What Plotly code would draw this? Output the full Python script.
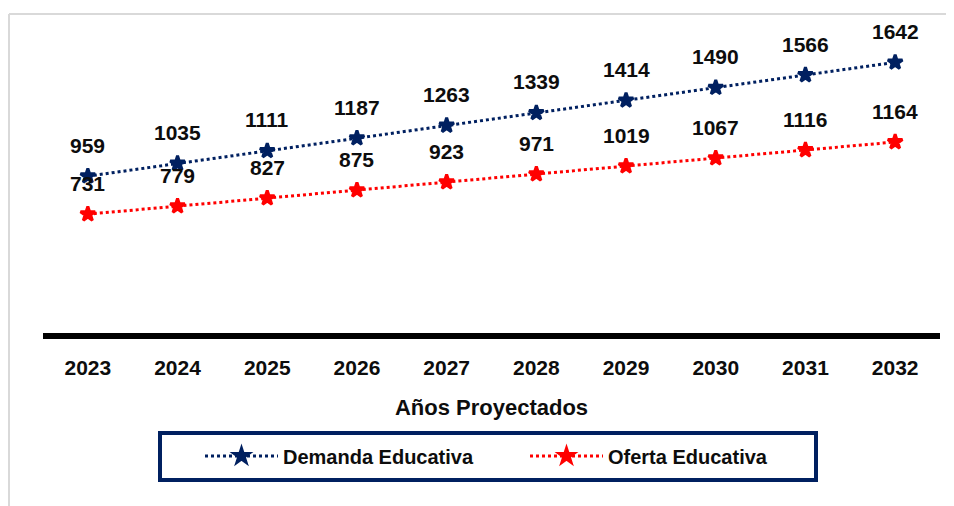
import plotly.graph_objects as go

years = [2023, 2024, 2025, 2026, 2027, 2028, 2029, 2030, 2031, 2032]
demanda = [959, 1035, 1111, 1187, 1263, 1339, 1414, 1490, 1566, 1642]
oferta = [731, 779, 827, 875, 923, 971, 1019, 1067, 1116, 1164]

NAVY = "#002060"
RED = "#FF0000"
FONT = "Liberation Sans"
TXT = "#0d0d0d"

fig = go.Figure()
fig.add_trace(go.Scatter(
    x=years, y=demanda, name="Demanda Educativa", mode="lines+markers",
    line=dict(color=NAVY, width=3, dash="dot"),
    marker=dict(symbol="star", size=11, color=NAVY, line=dict(color=NAVY, width=3)),
    cliponaxis=False,
))
fig.add_trace(go.Scatter(
    x=years, y=oferta, name="Oferta Educativa", mode="lines+markers",
    line=dict(color=RED, width=3, dash="dot"),
    marker=dict(symbol="star", size=11, color=RED, line=dict(color=RED, width=3)),
    cliponaxis=False,
))

annotations = []
for series in (demanda, oferta):
    for xv, yv in zip(years, series):
        annotations.append(dict(
            x=xv, y=yv, text=str(yv), showarrow=False, yshift=31,
            font=dict(family=FONT, size=21, color=TXT, weight="bold"),
        ))

# page is offset by 8px (body margin); all paper coords are relative to the plot area
PL, PB, PW, PH = 43, 336, 897, 300
def px(x):
    return (x - PL) / PW
def py(y):
    return (PB - y) / PH

shapes = [
    dict(type="line", xref="paper", yref="paper", x0=px(9), x1=px(960), y0=py(14), y1=py(14),
         line=dict(color="#d9d9d9", width=2)),
    dict(type="line", xref="paper", yref="paper", x0=px(9), x1=px(9), y0=py(14), y1=py(520),
         line=dict(color="#d9d9d9", width=2)),
    dict(type="rect", xref="paper", yref="paper",
         x0=px(160), x1=px(816), y0=py(480), y1=py(433),
         line=dict(color=NAVY, width=4)),
]

fig.update_layout(
    width=946, height=498,
    margin=dict(l=35, r=14, t=28, b=170, autoexpand=False),
    paper_bgcolor="white", plot_bgcolor="white",
    showlegend=True,
    legend=dict(
        orientation="h", x=px(200), xanchor="left", y=py(456), yanchor="middle",
        font=dict(family=FONT, size=20, color=TXT, weight="bold"),
        itemwidth=73, entrywidth=237, bgcolor="rgba(0,0,0,0)", borderwidth=0,
        itemclick=False,
    ),
    xaxis=dict(
        range=[2022.5, 2032.5], tickmode="array", tickvals=years,
        ticktext=[str(y) for y in years],
        showgrid=False, showline=False, ticks="", zeroline=False,
        ticklabelstandoff=17,
        tickfont=dict(family=FONT, size=21, color=TXT, weight="bold"),
        title=dict(text="Años Proyectados", standoff=21,
                   font=dict(family=FONT, size=22, color=TXT, weight="bold")),
    ),
    yaxis=dict(
        range=[0, 1800], showgrid=False, showticklabels=False, ticks="",
        zeroline=True, zerolinecolor="black", zerolinewidth=6, showline=False,
    ),
    annotations=annotations,
    shapes=shapes,
)

fig.write_html("out.html")
